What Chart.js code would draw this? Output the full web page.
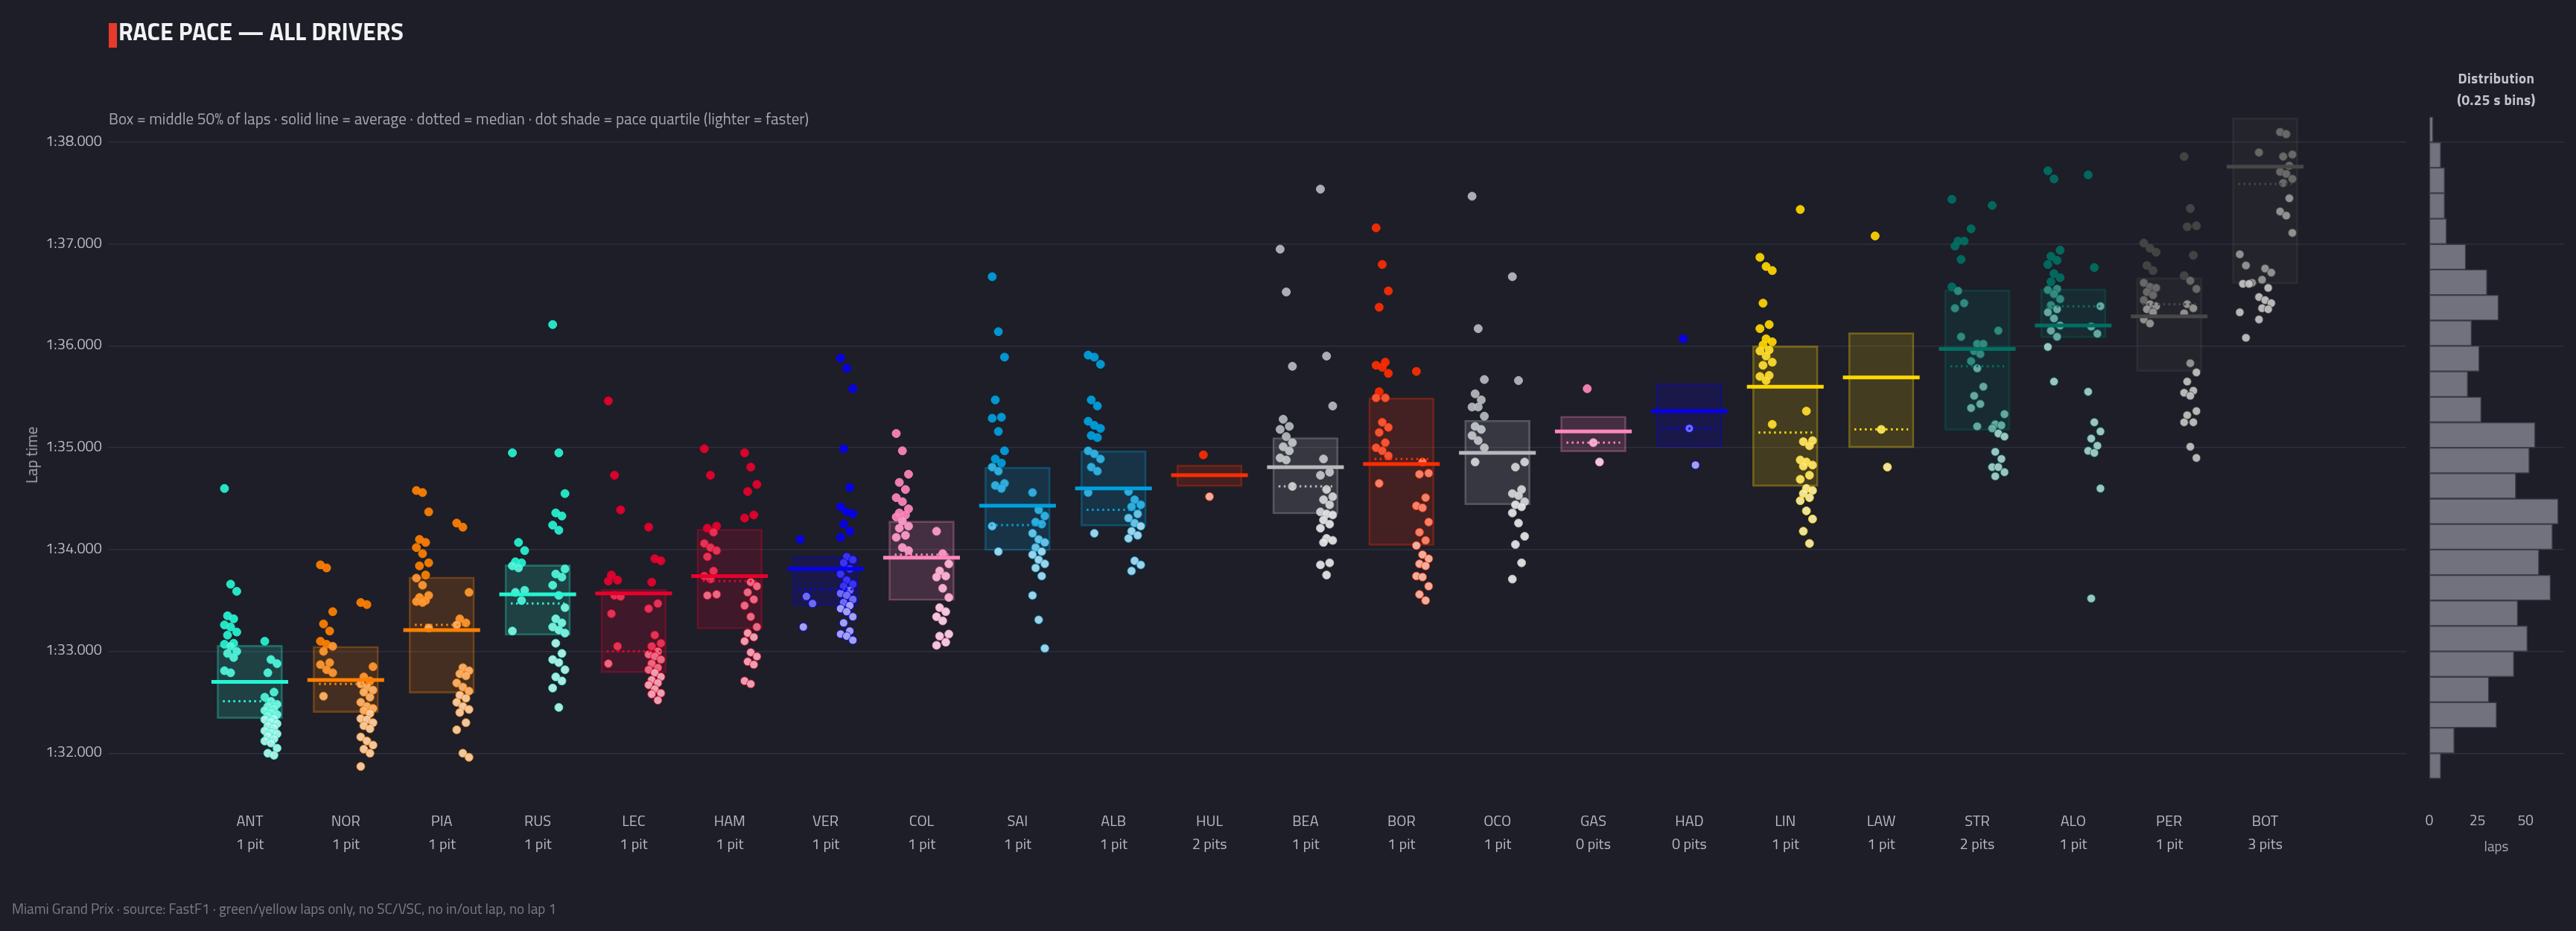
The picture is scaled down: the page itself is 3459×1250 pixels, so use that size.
<!DOCTYPE html>
<html>
<head>
<meta charset="utf-8">
<title>Race pace — all drivers</title>
<script src="https://cdn.jsdelivr.net/npm/chart.js@4.4.1/dist/chart.umd.min.js"></script>
<style>
  body { margin: 0; background: #1d1e28; }
  #page { position: relative; width: 3459px; height: 1250px; overflow: hidden; background: #1d1e28;
          font-family: 'Titillium Web', 'DejaVu Sans', sans-serif; }
  .abs { position: absolute; white-space: nowrap; }
  #redbar { left: 146px; top: 31px; width: 11px; height: 33px; background: #e83a2a; }
  #title { left: 159px; top: 24px; font-size: 32px; line-height: 36px; font-weight: bold; color: #f2f2f4; }
  #subtitle { left: 146px; top: 146px; font-size: 21px; line-height: 26px; color: #a6a6b0; }
  #ytitle { left: 42px; top: 611px; font-size: 21px; color: #a6a6b0; transform: translate(-50%, -50%) rotate(-90deg); }
  #histTitle { left: 3352px; top: 90px; transform: translateX(-50%); text-align: center; font-size: 19px;
               line-height: 29px; font-weight: bold; letter-spacing: 0.4px; color: #c4c4cc; }
  #histX { left: 3352px; top: 1124px; transform: translateX(-50%); font-size: 19px; line-height: 24px; color: #a6a6b0; }
  #footer { left: 16px; top: 1208px; font-size: 19px; line-height: 24px; color: #7c7c88; }
</style>
</head>
<body>
<div id="page">
  <canvas id="pace" class="abs" width="3245" height="1250" style="left:0;top:0"></canvas>
  <canvas id="hist" class="abs" width="214" height="1250" style="left:3245px;top:0"></canvas>
  <div id="redbar" class="abs"></div>
  <div id="title" class="abs">RACE PACE — ALL DRIVERS</div>
  <div id="subtitle" class="abs">Box = middle 50% of laps · solid line = average · dotted = median · dot shade = pace quartile (lighter = faster)</div>
  <div id="ytitle" class="abs">Lap time</div>
  <div id="histTitle" class="abs">Distribution<br>(0.25 s bins)</div>
  <div id="histX" class="abs">laps</div>
  <div id="footer" class="abs">Miami Grand Prix · source: FastF1 · green/yellow laps only, no SC/VSC, no in/out lap, no lap 1</div>
</div>
<script>
// ---- data (lap times in seconds) ----
const drivers = ['ANT','NOR','PIA','RUS','LEC','HAM','VER','COL','SAI','ALB','HUL','BEA','BOR','OCO','GAS','HAD','LIN','LAW','STR','ALO','PER','BOT'];
const pitStops = [1,1,1,1,1,1,1,1,1,1,2,1,1,1,0,0,1,1,2,1,1,3];

// middle 50% box, average and median per driver
const boxLow     = [92.34,92.40,92.59,93.16,92.79,93.22,93.45,93.50,93.99,94.23,94.62,94.35,94.04,94.44,94.96,95.01,94.62,95.00,95.17,96.08,95.75,96.61];
const boxHigh    = [93.06,93.05,93.73,93.85,93.61,94.20,93.93,94.28,94.81,94.97,94.83,95.10,95.49,95.27,95.31,95.63,96.00,96.13,96.55,96.56,96.67,98.24];
const lapAverage = [92.70,92.72,93.21,93.56,93.57,93.74,93.81,93.92,94.43,94.60,94.73,94.81,94.84,94.95,95.16,95.36,95.60,95.69,95.97,96.20,96.29,97.76];
const lapMedian  = [92.51,92.68,93.26,93.47,93.00,93.69,93.61,93.95,94.24,94.39,94.73,94.62,94.89,94.95,95.05,95.19,95.15,95.18,95.80,96.39,96.41,97.59];

// laps per driver, grouped by stint cluster
const lapsANT = [
  [94.60,93.66,93.59,93.35,93.32,93.26,93.24,93.19,93.16,93.08,93.07,93.05,93.00,92.98,92.94,92.81,92.79],
  [93.10,92.92,92.88,92.79,92.60,92.55,92.51,92.48,92.46,92.44,92.42,92.40,92.38,92.37,92.34,92.33,92.31,92.29,92.27,92.25,92.22,92.20,92.19,92.17,92.14,92.12,92.10,92.05,92.00,91.98]
];
const lapsNOR = [
  [93.85,93.82,93.39,93.27,93.20,93.10,93.07,93.05,93.00,92.89,92.87,92.82,92.79,92.56],
  [93.48,93.46,92.85,92.75,92.71,92.68,92.65,92.62,92.60,92.55,92.50,92.46,92.44,92.42,92.39,92.34,92.33,92.30,92.27,92.24,92.16,92.12,92.08,92.04,92.00,91.87]
];
const lapsPIA = [
  [94.58,94.56,94.37,94.10,94.07,94.02,93.96,93.87,93.84,93.75,93.72,93.65,93.55,93.53,93.50,93.49,93.48,93.23],
  [94.26,94.22,93.58,93.32,93.28,93.26,92.84,92.81,92.78,92.76,92.69,92.65,92.61,92.57,92.54,92.50,92.46,92.43,92.40,92.30,92.23,92.00,91.96]
];
const lapsRUS = [
  [94.95,94.07,93.99,93.88,93.87,93.84,93.82,93.60,93.58,93.50,93.20],
  [96.21,94.95,94.55,94.36,94.33,94.24,94.19,93.81,93.76,93.73,93.65,93.55,93.43,93.32,93.28,93.24,93.21,93.18,93.08,92.98,92.92,92.89,92.82,92.75,92.71,92.64,92.45]
];
const lapsLEC = [
  [95.46,94.73,94.39,93.75,93.70,93.69,93.55,93.54,93.37,93.05,92.88],
  [94.22,93.91,93.89,93.68,93.47,93.42,93.16,93.08,93.05,93.00,92.97,92.95,92.92,92.88,92.84,92.82,92.79,92.75,92.72,92.69,92.67,92.63,92.59,92.58,92.52]
];
const lapsHAM = [
  [94.99,94.73,94.23,94.21,94.17,94.06,94.02,93.99,93.93,93.79,93.74,93.71,93.56,93.55],
  [94.95,94.81,94.64,94.57,94.34,94.31,93.68,93.64,93.58,93.51,93.45,93.34,93.24,93.18,93.14,93.10,92.99,92.95,92.90,92.87,92.71,92.68]
];
const lapsVER = [
  [94.10,93.54,93.47,93.24],
  [95.88,95.78,95.58,94.99,94.61,94.42,94.37,94.35,94.25,94.18,94.12,93.93,93.90,93.87,93.81,93.76,93.70,93.66,93.64,93.60,93.57,93.55,93.51,93.48,93.45,93.42,93.39,93.34,93.28,93.20,93.17,93.15,93.11]
];
const lapsCOL = [
  [95.14,94.97,94.74,94.66,94.59,94.51,94.47,94.40,94.36,94.34,94.32,94.28,94.23,94.21,94.14,94.12,94.02,93.99],
  [94.18,93.96,93.86,93.79,93.74,93.73,93.62,93.53,93.43,93.39,93.34,93.30,93.17,93.15,93.09,93.06]
];
const lapsSAI = [
  [96.68,96.14,95.89,95.47,95.30,95.29,95.16,94.97,94.89,94.85,94.81,94.77,94.65,94.63,94.60,94.23,93.98],
  [94.56,94.39,94.33,94.27,94.25,94.16,94.10,94.07,94.02,93.98,93.95,93.90,93.86,93.82,93.74,93.55,93.31,93.03]
];
const lapsALB = [
  [95.91,95.89,95.82,95.47,95.41,95.26,95.22,95.19,95.12,95.10,94.97,94.94,94.89,94.81,94.77,94.56,94.16],
  [94.57,94.49,94.44,94.42,94.35,94.31,94.26,94.23,94.18,94.14,94.11,93.89,93.85,93.79]
];
const lapsHUL = [[94.93,94.52]];
const lapsBEA = [
  [96.95,96.53,95.80,95.28,95.21,95.18,95.11,95.05,95.01,94.97,94.90,94.88,94.62],
  [97.54,95.90,95.41,94.89,94.76,94.73,94.59,94.52,94.49,94.44,94.37,94.35,94.34,94.29,94.25,94.21,94.11,94.09,94.07,93.87,93.85,93.75]
];
const lapsBOR = [
  [97.16,96.80,96.54,96.38,95.84,95.81,95.79,95.73,95.55,95.49,95.49,95.25,95.20,95.15,95.05,95.00,94.97,94.92,94.65],
  [95.75,94.86,94.75,94.74,94.51,94.43,94.41,94.27,94.17,94.09,94.04,93.95,93.91,93.86,93.84,93.74,93.73,93.64,93.56,93.50]
];
const lapsOCO = [
  [97.47,96.17,95.67,95.53,95.47,95.40,95.40,95.31,95.21,95.18,95.12,95.07,95.00,94.86],
  [96.68,95.66,94.86,94.81,94.59,94.55,94.53,94.47,94.44,94.42,94.36,94.26,94.13,94.05,93.87,93.71]
];
const lapsGAS = [[95.58,95.05,94.86]];
const lapsHAD = [[96.07,95.19,94.83]];
const lapsLIN = [
  [96.87,96.78,96.74,96.42,96.21,96.17,96.07,96.04,96.01,95.96,95.95,95.90,95.84,95.81,95.71,95.70,95.66,95.23],
  [97.34,95.36,95.07,95.06,95.02,94.88,94.86,94.83,94.82,94.73,94.69,94.60,94.58,94.55,94.51,94.48,94.38,94.30,94.18,94.06]
];
const lapsLAW = [[97.08,95.18,94.81]];
const lapsSTR = [
  [97.44,97.03,97.03,96.98,96.85,96.58,96.54,96.42,96.37,96.09],
  [97.15,96.02,96.02,95.95,95.92,95.85,95.78,95.60,95.51,95.43,95.39,95.21],
  [97.38,96.15,95.33,95.23,95.22,95.19,95.14,95.11,94.96,94.89,94.81,94.81,94.76,94.72]
];
const lapsALO = [
  [97.72,97.64,96.94,96.88,96.84,96.80,96.71,96.67,96.63,96.56,96.55,96.51,96.46,96.40,96.36,96.33,96.27,96.20,96.15,96.09,95.99,95.65],
  [97.68,96.77,96.39,96.19,96.12,95.55,95.25,95.16,95.09,95.02,94.97,94.95,94.60,93.52]
];
const lapsPER = [
  [97.01,96.96,96.92,96.79,96.74,96.62,96.58,96.57,96.53,96.50,96.45,96.41,96.39,96.36,96.33,96.26,96.22],
  [97.86,97.35,97.18,97.17,96.89,96.69,96.64,96.56,96.41,96.37,96.32,95.83,95.74,95.65,95.56,95.54,95.51,95.36,95.32,95.25,95.25,95.01,94.90]
];
const lapsBOT = [
  [96.90,96.79,96.62,96.61,96.61,96.33,96.08],
  [97.90,96.76,96.72,96.65,96.57,96.48,96.45,96.42,96.37,96.36,96.26],
  [98.10,98.08,97.88,97.86,97.77,97.71,97.69,97.64,97.60,97.45,97.32,97.28,97.11]
];
const driverLaps = [lapsANT,lapsNOR,lapsPIA,lapsRUS,lapsLEC,lapsHAM,lapsVER,lapsCOL,lapsSAI,lapsALB,lapsHUL,
                    lapsBEA,lapsBOR,lapsOCO,lapsGAS,lapsHAD,lapsLIN,lapsLAW,lapsSTR,lapsALO,lapsPER,lapsBOT];

// histogram of all laps, 0.25 s bins (lower edge) and lap counts
const histBins   = [91.75,92.00,92.25,92.50,92.75,93.00,93.25,93.50,93.75,94.00,94.25,94.50,94.75,
                    95.00,95.25,95.50,95.75,96.00,96.25,96.50,96.75,97.00,97.25,97.50,97.75,98.00];
const histCounts = [6,13,35,31,44,51,46,63,57,64,67,45,52,55,27,20,26,22,36,30,19,9,8,8,6,2];

const lapTicks  = [92,93,94,95,96,97,98];
const histTicks = [0,25,50];

// ---- style ----
const teamColor = {
  ANT:'#27F4D2', RUS:'#27F4D2', NOR:'#FF8000', PIA:'#FF8000', LEC:'#E8002D', HAM:'#E8002D',
  VER:'#0600EF', HAD:'#0600EF', COL:'#FF87BC', GAS:'#FF87BC', SAI:'#00A0DE', ALB:'#00A0DE',
  HUL:'#FF2D00', BOR:'#FF2D00', BEA:'#B6BABD', OCO:'#B6BABD', LIN:'#FFD700', LAW:'#FFD700',
  STR:'#006F62', ALO:'#006F62', PER:'#474747', BOT:'#474747'
};
const FONT = "'Titillium Web', 'DejaVu Sans', sans-serif";
const GRID = '#2e2f3c';
const TICK = '#b9b9c3';
const Y_MIN = 91.6, Y_MAX = 98.3;
const X_MIN = -1.47, X_MAX = 22.47;
const AREA_TOP = 150, AREA_BOTTOM = 1066;

function rgb(hex) {
  const n = parseInt(hex.slice(1), 16);
  return [(n >> 16) & 255, (n >> 8) & 255, n & 255];
}
function rgba(hex, a) { const [r,g,b] = rgb(hex); return `rgba(${r},${g},${b},${a})`; }
function lighten(hex, t, a) {
  const [r,g,b] = rgb(hex).map(c => Math.round(c + (255 - c) * t));
  return `rgba(${r},${g},${b},${a})`;
}
function fmtLap(v) {
  const m = Math.floor(v / 60);
  const s = (v - m * 60).toFixed(3).padStart(6, '0');
  return `${m}:${s}`;
}
function pitLabel(n) { return n === 1 ? '1 pit' : `${n} pits`; }
function groupOffset(g, n) {
  if (n === 1) return 0;
  if (n === 2) return g === 0 ? -0.2 : 0.22;
  return [-0.2, 0, 0.22][g];
}
function shadeFor(v, i) {
  if (v <= boxLow[i]) return 0.68;
  if (v <= lapMedian[i]) return 0.45;
  if (v <= boxHigh[i]) return 0.22;
  return 0;
}
// bottom axes: fixed height, no sideways label padding
function fixBottom(s) {
  s.height = 1250 - AREA_BOTTOM;
  s.paddingLeft = 0;
  s.paddingRight = 0;
}

// ---- datasets ----
const datasets = [];

datasets.push({
  type: 'bar',
  order: 3,
  data: drivers.map((d, i) => ({ x: i, y: [boxLow[i], boxHigh[i]] })),
  backgroundColor: drivers.map(d => rgba(teamColor[d], 0.17)),
  borderColor: drivers.map(d => rgba(teamColor[d], 0.35)),
  borderWidth: 2,
  borderSkipped: false,
  barThickness: 88,
  grouped: false
});

const pts = [], ptFill = [], ptEdge = [];
drivers.forEach((d, i) => {
  const groups = driverLaps[i];
  groups.forEach((laps, g) => {
    laps.forEach((v, k) => {
      const jitter = (((k * 7) % 5) - 2) * 0.032;
      pts.push({ x: i + groupOffset(g, groups.length) + jitter, y: v });
      ptFill.push(lighten(teamColor[d], shadeFor(v, i), 0.92));
      ptEdge.push(rgba(teamColor[d], 0.85));
    });
  });
});
datasets.push({
  type: 'scatter',
  order: 2,
  data: pts,
  pointRadius: 5.5,
  pointBackgroundColor: ptFill,
  pointBorderColor: ptEdge,
  pointBorderWidth: 1
});

drivers.forEach((d, i) => {
  datasets.push({
    type: 'line', order: 1,
    data: [{ x: i - 0.4, y: lapAverage[i] }, { x: i + 0.4, y: lapAverage[i] }],
    borderColor: teamColor[d], borderWidth: 5, borderCapStyle: 'butt', pointRadius: 0
  });
  datasets.push({
    type: 'line', order: 0,
    data: [{ x: i - 0.28, y: lapMedian[i] }, { x: i + 0.28, y: lapMedian[i] }],
    borderColor: teamColor[d], borderWidth: 3, borderDash: [2.5, 4.5], borderCapStyle: 'butt', pointRadius: 0
  });
});

new Chart(document.getElementById('pace'), {
  type: 'scatter',
  data: { datasets },
  options: {
    responsive: false,
    animation: false,
    devicePixelRatio: 1,
    layout: { padding: { top: AREA_TOP, right: 14, bottom: 0, left: 0 } },
    plugins: { legend: { display: false }, tooltip: { enabled: false } },
    scales: {
      x: {
        type: 'linear', min: X_MIN, max: X_MAX, offset: false,
        grid: { display: false }, border: { display: false },
        afterBuildTicks: s => { s.ticks = drivers.map((d, i) => ({ value: i })); },
        afterFit: fixBottom,
        ticks: {
          autoSkip: false, maxRotation: 0, padding: 15, color: TICK,
          font: { family: FONT, size: 20, lineHeight: 1.55 },
          callback: v => [drivers[v], pitLabel(pitStops[v])]
        }
      },
      y: {
        type: 'linear', min: Y_MIN, max: Y_MAX,
        grid: { color: GRID, lineWidth: 1.5, drawTicks: false }, border: { display: false },
        afterBuildTicks: s => { s.ticks = lapTicks.map(v => ({ value: v })); },
        afterFit: s => { s.width = 146; },
        ticks: { padding: 9, color: TICK, font: { family: FONT, size: 20 }, callback: v => fmtLap(v) }
      }
    }
  }
});

new Chart(document.getElementById('hist'), {
  type: 'bar',
  data: {
    datasets: [{
      data: histBins.map((b, i) => ({ x: histCounts[i], y: b + 0.125 })),
      backgroundColor: '#72727e',
      borderColor: '#3c3d49',
      borderWidth: 1.5,
      borderSkipped: false,
      barThickness: 34.2,
      grouped: false
    }]
  },
  options: {
    indexAxis: 'y',
    responsive: false,
    animation: false,
    devicePixelRatio: 1,
    layout: { padding: { top: AREA_TOP, right: 16, bottom: 0, left: 0 } },
    plugins: { legend: { display: false }, tooltip: { enabled: false } },
    scales: {
      x: {
        type: 'linear', min: 0, max: 70, offset: false,
        grid: { display: false }, border: { display: false },
        afterBuildTicks: s => { s.ticks = histTicks.map(v => ({ value: v })); },
        afterFit: fixBottom,
        ticks: { padding: 18, color: TICK, font: { family: FONT, size: 19 } }
      },
      y: {
        type: 'linear', min: Y_MIN, max: Y_MAX, offset: false,
        grid: { color: GRID, lineWidth: 1.5, drawTicks: false, offset: false }, border: { display: false },
        afterBuildTicks: s => { s.ticks = lapTicks.map(v => ({ value: v })); },
        afterFit: s => { s.width = 17; },
        ticks: { display: false }
      }
    }
  }
});
</script>
</body>
</html>
